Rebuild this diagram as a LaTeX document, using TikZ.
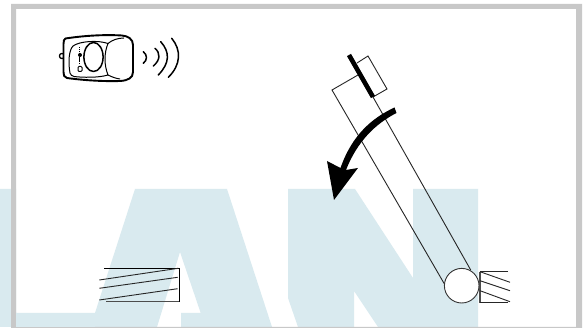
\documentclass[tikz,border=0pt]{standalone}
\definecolor{bandblue}{HTML}{D9EAEF}
\definecolor{framegray}{HTML}{C8C8C8}
\tikzset{
  thinline/.style={line width=0.9pt,color=black!85},
  wave/.style={line width=1.5pt,line cap=round},
  fob/.style={line width=1.3pt,line join=round}
}
\begin{document}
\begin{tikzpicture}[x=1pt,y=-1pt]
\useasboundingbox (0,0) rectangle (587,328);
\fill[white] (0,0) rectangle (587,328);
% background letters
\fill[bandblue] (0,189) -- (16,189) -- (16,313) -- (95,313) -- (135,189) -- (227,189) -- (272,327) -- (181,327) -- (181,313) -- (200.7,313) -- (180,252) -- (157,327) -- (0,327) -- cycle;
\fill[bandblue] (288,189) -- (355,189) -- (413,278) -- (413,189) -- (478,189) -- (478,327) -- (378,327) -- (354,291) -- (354,327) -- (298,327) -- (288,298) -- cycle;
% frame
\fill[framegray,even odd rule] (11,4) rectangle (582,328) (16,9) rectangle (576,327);
\fill[bandblue] (16,313) rectangle (95,327);
% arm
\coordinate (armTL) at (332,90);
\coordinate (armBL) at (445,285);
\coordinate (armBR) at (470.7,270);
\coordinate (barT) at (349,55);
\coordinate (barB) at (373,97);
\draw[thinline] (armBL) -- (armTL) -- (358,75);
\draw[thinline] (373,97) -- (armBR);
\draw[thinline] (357,63) -- (368,56) -- (387,89) -- (373,97);
\node[circle,draw=black!80,fill=white,line width=0.9pt,minimum size=34.6pt,inner sep=0pt] (hub) at (461.7,285.7) {};
\draw[line width=4.6pt] (barT) -- (barB);
% thick arrow
\fill (394.5,107.5) .. controls (372,118) and (352,135) .. (340.5,168) -- (327,161) -- (334,200) -- (358,168) -- (346,170) .. controls (357,142) and (375,124) .. (396.5,113) -- cycle;
% left stop
\draw[thinline,black] (104.3,268.3) -- (179.3,268.3) -- (179.3,301.7);
\draw[line width=1.3pt,black!70] (106,301.7) -- (179.3,301.7);
\draw[thinline] (99.3,280) -- (178.3,268.3);
\draw[thinline] (99.3,288.3) -- (177.7,277.3);
\draw[thinline] (99.3,300) -- (177.7,288.7);
% right stop
\draw[thinline] (508,271.7) -- (480,271.7);
\draw[line width=1.3pt,black!70] (480,271.7) -- (480,302.7);
\draw[thinline] (480,302.7) -- (508,302.7);
\draw[thinline] (480,271.7) -- (510,282.3);
\draw[thinline] (480,280.7) -- (510,290.7);
\draw[thinline] (480,290.7) -- (510,301.7);
% remote
\draw[fob] (62,56) circle (2.6pt);
\draw[fob,fill=white,line width=1.9pt] (65.5,38.5) .. controls (85,35.5) and (105,34.5) .. (122,35.5) .. controls (128,36) and (133,39) .. (133,45) -- (133,72) .. controls (133,78) and (128,80.5) .. (120,81) .. controls (105,81.5) and (85,80.5) .. (67,78) .. controls (64,77.5) and (63.5,75) .. (63.5,72) -- (63.5,44) .. controls (63.5,41) and (64,39) .. (65.5,38.5) -- cycle;
\draw[fob,line width=1pt] (70,73) .. controls (68,62) and (69,50) .. (73,46) .. controls (80,41) and (98,40) .. (108,43.5) .. controls (104,53) and (104,65) .. (108,75) .. controls (98,78) and (82,77.5) .. (74,76.5) .. controls (72,76) and (70.5,75) .. (70,73) -- cycle;
\draw[fob,line width=1pt] (108,43.5) .. controls (112,40) and (118,38) .. (124,38);
\draw[fob,line width=1pt] (108,75) .. controls (112,77) and (116,78.5) .. (120,79);
\draw[fob,line width=1.5pt] (93.5,57) ellipse (9.6pt and 14.5pt);
\fill (80,55) circle (2pt);
\draw[line width=1.5pt,dash pattern=on 1.2pt off 0.7pt] (79.5,47) -- (79.5,53);
\draw[line width=1.5pt,dash pattern=on 1.2pt off 0.7pt] (79.5,57.5) -- (79.5,64);
\draw[line width=1pt,rounded corners=1pt] (78,66.5) rectangle (82,71.5);
% waves
\draw[wave] (143.3,51.7) .. controls (147.5,55) and (147.5,60) .. (143.3,63.3);
\draw[wave] (155,48.3) .. controls (160.5,53) and (160.5,60) .. (153.3,66);
\draw[wave] (160.7,41.7) .. controls (170,52) and (170,63) .. (158.3,75);
\draw[wave] (171.7,38.3) .. controls (181.5,50) and (181,65) .. (168.3,77.3);
\end{tikzpicture}
\end{document}
